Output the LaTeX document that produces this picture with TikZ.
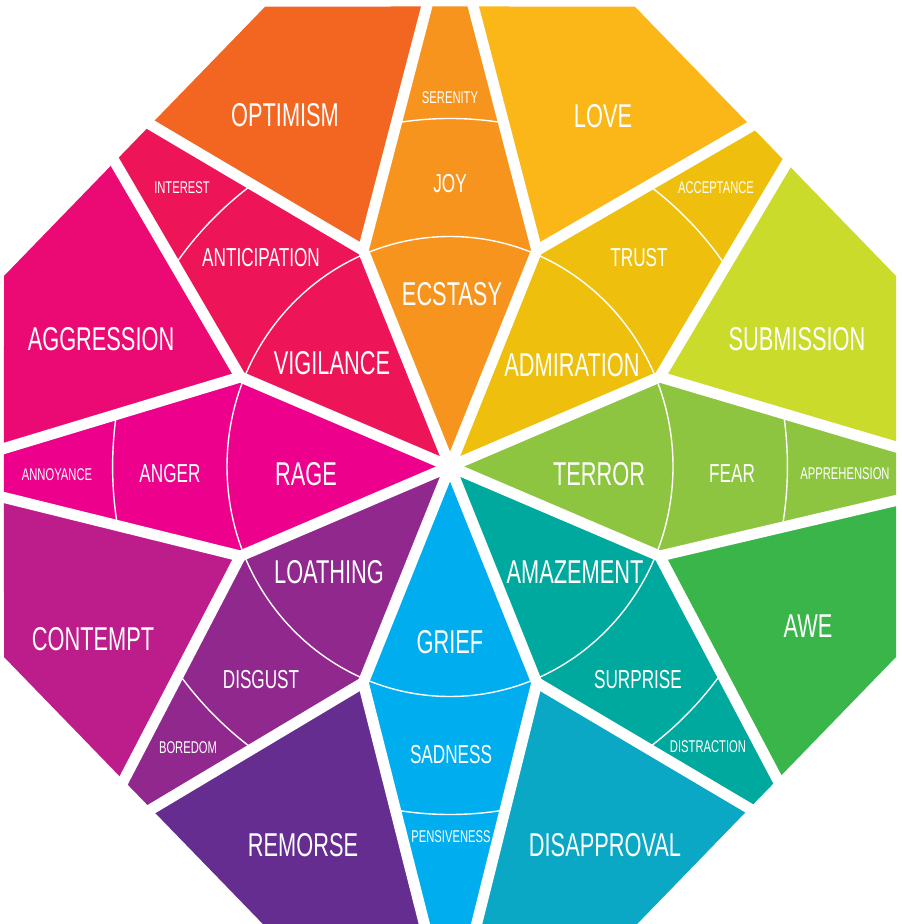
\documentclass[tikz,border=0pt]{standalone}
\usepackage{fontspec}
\newfontfamily\lab[FakeStretch=0.66]{Liberation Sans}
\usetikzlibrary{calc}
\definecolor{cOpt}{HTML}{F26622}
\definecolor{cJoy}{HTML}{F7941E}
\definecolor{cLove}{HTML}{FBB617}
\definecolor{cTrust}{HTML}{EEC00D}
\definecolor{cSub}{HTML}{CADB2B}
\definecolor{cFear}{HTML}{8DC540}
\definecolor{cAwe}{HTML}{3AB54A}
\definecolor{cSurp}{HTML}{00A99D}
\definecolor{cDisap}{HTML}{0BA8C6}
\definecolor{cSad}{HTML}{00AEEF}
\definecolor{cRem}{HTML}{652D90}
\definecolor{cDisg}{HTML}{90288E}
\definecolor{cCont}{HTML}{BD1C8B}
\definecolor{cAnger}{HTML}{EC008C}
\definecolor{cAggr}{HTML}{EB0A74}
\definecolor{cAnt}{HTML}{ED1558}
\tikzset{
  gap/.style={white, line width=11pt, line join=round, line cap=round},
  ring/.style={white, line width=1.4pt},
  big/.style={text=white, inner sep=0pt, anchor=center, font=\lab\fontsize{33}{36}\selectfont},
  mid/.style={text=white, inner sep=0pt, anchor=center, font=\lab\fontsize{26}{28}\selectfont},
  small/.style={text=white, inner sep=0pt, anchor=center, font=\lab\fontsize{17}{19}\selectfont}
}
\begin{document}
\begin{tikzpicture}[x=0.9696pt,y=1pt]
\fill[white] (-464.12,-457.5) rectangle (465.15,466.5);
\useasboundingbox (-464.12,-457.5) rectangle (465.15,466.5);
% geometry
\foreach \n/\a/\wl/\wr in {joy/90/24/24, trust/45/21/31, fear/0/19.5/34, surp/-45/17.5/23.5, sad/-90/26.8/25.8, disg/-135/24.5/16, anger/180/31/18, ant/135/29/23.4}{
  \coordinate (\n-l) at ($(\a:460)+(\a+90:\wl)$);
  \coordinate (\n-r) at ($(\a:460)+(\a-90:\wr)$);
  \coordinate (\n-dl) at (\a+22.5:234);
  \coordinate (\n-dr) at (\a-22.5:234);
}
% petals
\foreach \n/\c in {joy/cJoy, trust/cTrust, fear/cFear, surp/cSurp, sad/cSad, disg/cDisg, anger/cAnger, ant/cAnt}{
  \begin{scope}
    \clip (0,0) -- (\n-dl) -- (\n-l) -- (\n-r) -- (\n-dr) -- cycle;
    \fill[\c] (-520,-520) rectangle (520,520);
    \draw[ring] (0,0) ellipse[x radius=223pt, y radius=230pt];
    \draw[ring] (0,0) ellipse[x radius=337.4pt, y radius=348pt];
  \end{scope}
}
% dyads
\fill[cLove] (joy-dr) -- (joy-r) -- (67.5:497.9) -- (trust-l) -- cycle;
\fill[cSub] (trust-dr) -- (trust-r) -- (22.5:497.9) -- (fear-l) -- cycle;
\fill[cAwe] (fear-dr) -- (fear-r) -- (-22.5:497.9) -- (surp-l) -- cycle;
\fill[cDisap] (surp-dr) -- (surp-r) -- (-67.5:497.9) -- (sad-l) -- cycle;
\fill[cRem] (sad-dr) -- (sad-r) -- (-112.5:497.9) -- (disg-l) -- cycle;
\fill[cCont] (disg-dr) -- (disg-r) -- (-157.5:497.9) -- (anger-l) -- cycle;
\fill[cAggr] (anger-dr) -- (anger-r) -- (157.5:497.9) -- (ant-l) -- cycle;
\fill[cOpt] (ant-dr) -- (ant-r) -- (112.5:497.9) -- (joy-l) -- cycle;
% gaps
\foreach \n in {joy, trust, fear, surp, sad, disg, anger, ant}{
  \draw[gap] (0,0) -- (\n-dl);
  \draw[gap] (\n-dl) -- ($(\n-dl)!1.15!(\n-l)$);
  \draw[gap] (\n-dr) -- ($(\n-dr)!1.15!(\n-r)$);
}
% labels
\begin{scope}[x=1pt,y=-1pt,xshift=-450pt,yshift=466.5pt]
  \node[big] (optimism) at (285,115) {OPTIMISM};
  \node[big] (love) at (603,116) {LOVE};
  \node[big] (submission) at (797,339) {SUBMISSION};
  \node[big] (awe) at (808,626) {AWE};
  \node[big] (disapproval) at (605,845) {DISAPPROVAL};
  \node[big] (remorse) at (303,845) {REMORSE};
  \node[big] (contempt) at (93,639) {CONTEMPT};
  \node[big] (aggression) at (101,339) {AGGRESSION};
  \node[big] (ecstasy) at (452,294) {ECSTASY};
  \node[big] (admiration) at (572,365) {ADMIRATION};
  \node[big] (terror) at (599,474) {TERROR};
  \node[big] (amazement) at (575,572) {AMAZEMENT};
  \node[big] (grief) at (450,642) {GRIEF};
  \node[big] (loathing) at (329,572) {LOATHING};
  \node[big] (rage) at (306,474) {RAGE};
  \node[big] (vigilance) at (332,363) {VIGILANCE};
  \node[mid] (joyt) at (450,184) {JOY};
  \node[mid] (trustt) at (639,258) {TRUST};
  \node[mid] (feart) at (732,474) {FEAR};
  \node[mid] (surpriset) at (638,680) {SURPRISE};
  \node[mid] (sadnesst) at (451,755) {SADNESS};
  \node[mid] (disgustt) at (261,680) {DISGUST};
  \node[mid] (angert) at (170,474) {ANGER};
  \node[mid] (anticipationt) at (261,258) {ANTICIPATION};
  \node[small] (serenity) at (450,98) {SERENITY};
  \node[small] (acceptance) at (716,188) {ACCEPTANCE};
  \node[small] (apprehension) at (845,474) {APPREHENSION};
  \node[small] (distraction) at (708,747) {DISTRACTION};
  \node[small] (pensiveness) at (451,837) {PENSIVENESS};
  \node[small] (boredom) at (188,748) {BOREDOM};
  \node[small] (annoyance) at (57,474.5) {ANNOYANCE};
  \node[small] (interest) at (182,188) {INTEREST};
\end{scope}
\end{tikzpicture}
\end{document}
